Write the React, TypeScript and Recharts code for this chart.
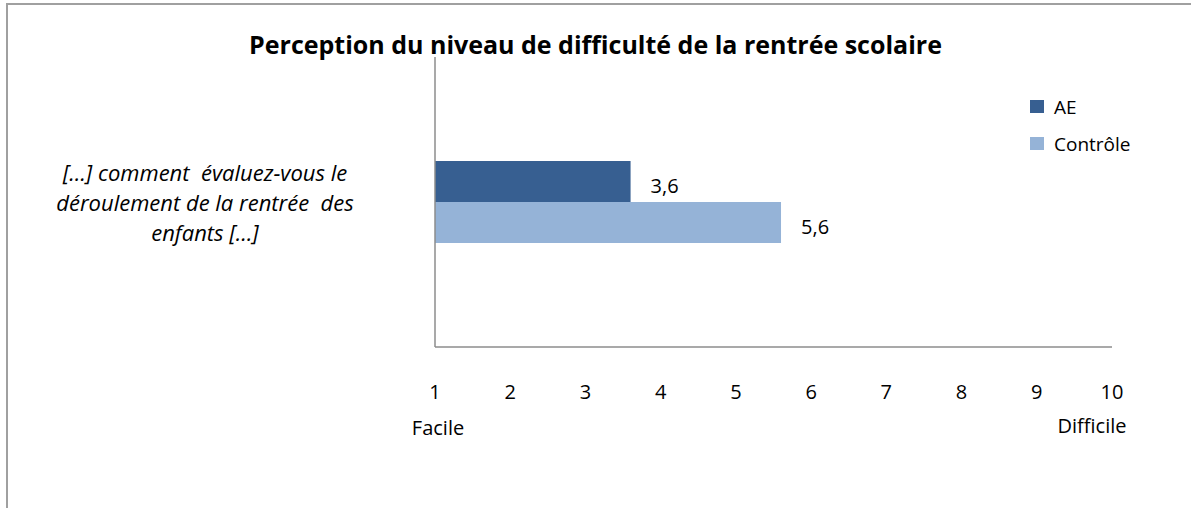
import React from "react";
import { BarChart, Bar, XAxis, YAxis, LabelList } from "recharts";

const QUESTION_LINES = [
  "[…] comment  évaluez-vous le",
  "déroulement de la rentrée  des",
  "enfants […]",
];
const CATEGORIES = [QUESTION_LINES.join(" ")];
const AE_VALUES = [3.6];
const CONTROLE_VALUES = [5.6];
const X_TICKS = [1, 2, 3, 4, 5, 6, 7, 8, 9, 10];
const SERIES = [
  { key: "ae", name: "AE", color: "#375f91" },
  { key: "controle", name: "Contrôle", color: "#95b3d7" },
];

const data = CATEGORIES.map((q, i) => ({
  q,
  ae: AE_VALUES[i],
  controle: CONTROLE_VALUES[i],
}));

const FONT = "'Open Sans', Lato, sans-serif";
const fmt = (v: any) => Number(v).toFixed(1).replace(".", ",");

function QuestionTick(props: any) {
  const { y } = props;
  return (
    <text
      textAnchor="middle"
      fontStyle="italic"
      fontSize={22}
      fill="#000"
      fontFamily={FONT}
      style={{ whiteSpace: "pre" }}
    >
      {QUESTION_LINES.map((line, i) => (
        <tspan key={i} x={205} y={y - 21 + i * 30}>
          {line}
        </tspan>
      ))}
    </text>
  );
}

function ScaleTick(props: any) {
  const { x, y, payload } = props;
  const v = payload.value;
  return (
    <g>
      <text x={x} y={y + 44} textAnchor="middle" fontSize={20} fill="#000" fontFamily={FONT}>
        {v}
      </text>
      {v === X_TICKS[0] && (
        <text x={x + 3} y={y + 80} textAnchor="middle" fontSize={20} fill="#000" fontFamily={FONT}>
          Facile
        </text>
      )}
      {v === X_TICKS[X_TICKS.length - 1] && (
        <text x={x - 20} y={y + 78} textAnchor="middle" fontSize={20} fill="#000" fontFamily={FONT}>
          Difficile
        </text>
      )}
    </g>
  );
}

function LegendBox() {
  return (
    <div style={{ position: "absolute", left: 1030, top: 88, fontFamily: FONT, fontSize: 19, color: "#000" }}>
      {SERIES.map((s) => (
        <div key={s.key} style={{ display: "flex", alignItems: "center", height: 37 }}>
          <span style={{ width: 14, height: 13, background: s.color, marginRight: 10 }} />
          <span>{s.name}</span>
        </div>
      ))}
    </div>
  );
}

export default function App() {
  return (
    <div style={{ position: "absolute", left: 0, top: 0, width: 1191, height: 508, overflow: "hidden", background: "#fff" }}>
      <div
        style={{
          position: "absolute",
          left: 6,
          top: 3,
          width: 1220,
          height: 540,
          border: "2px solid #a0a0a0",
        }}
      />
      <div
        style={{
          position: "absolute",
          left: 0,
          top: 29,
          width: 1191,
          textAlign: "center",
          fontFamily: FONT,
          fontWeight: 700,
          fontSize: 25,
          lineHeight: "30px",
          color: "#000",
        }}
      >
        Perception du niveau de difficulté de la rentrée scolaire
      </div>
      <div style={{ position: "absolute", left: 0, top: 0 }}>
        <BarChart
          width={1191}
          height={508}
          data={data}
          layout="vertical"
          margin={{ top: 57, right: 79, bottom: 160, left: 0 }}
          barGap={0}
        >
          <XAxis
            type="number"
            domain={[1, 10]}
            ticks={X_TICKS}
            tickLine={false}
            axisLine={{ stroke: "#8c8c8c", strokeWidth: 1.5 }}
            tick={<ScaleTick />}
            interval={0}
            height={1}
          />
          <YAxis
            type="category"
            dataKey="q"
            width={435}
            tickLine={false}
            axisLine={{ stroke: "#8c8c8c", strokeWidth: 1.5 }}
            tick={<QuestionTick />}
          />
          {SERIES.map((s) => (
            <Bar key={s.key} dataKey={s.key} name={s.name} fill={s.color} barSize={41} isAnimationActive={false}>
              <LabelList
                dataKey={s.key}
                position="right"
                offset={20}
                formatter={fmt}
                style={{ fontSize: 20, fill: "#000", fontFamily: FONT }}
                dy={4}
              />
            </Bar>
          ))}
        </BarChart>
      </div>
      <LegendBox />
    </div>
  );
}
